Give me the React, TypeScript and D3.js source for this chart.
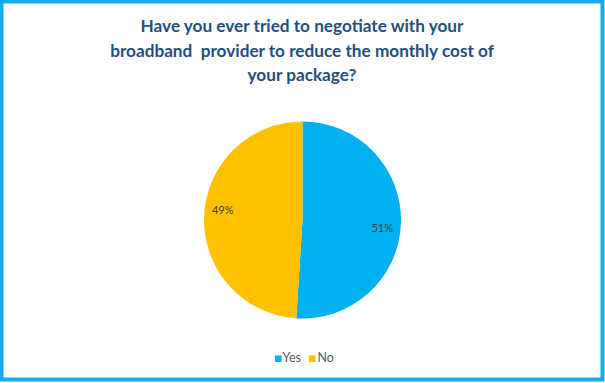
import React from "react";
import * as d3 from "d3";

const titleLines = [
  "Have you ever tried to negotiate with your",
  "broadband  provider to reduce the monthly cost of",
  "your package?",
];
const categories = ["Yes", "No"];
const values = [51, 49];
const colors = ["#00B0F0", "#FFC000"];

const W = 605;
const H = 383;

export default function App() {
  const cx = 302.5;
  const cy = 220;
  const r = 98.5;
  const pie = d3.pie<number>().sort(null).value((d) => d)(values);
  const arc = d3.arc<d3.PieArcDatum<number>>().innerRadius(0).outerRadius(r);
  const labelArc = d3.arc<d3.PieArcDatum<number>>().innerRadius(r * 0.79).outerRadius(r * 0.79);
  const labelDy = [7, -6];
  const labelDx = [2, -2];
  const total = d3.sum(values);

  const legendY = 362;
  const legendItems = [
    { x: 275, tx: 282.5 },
    { x: 309, tx: 317.5 },
  ];

  return (
    <svg
      width={W}
      height={H}
      style={{ position: "absolute", left: 0, top: 0, fontFamily: "Lato, 'Open Sans', sans-serif" }}
    >
      <rect x={0} y={0} width={W} height={H} fill="#ffffff" />
      <rect x={1.5} y={1.5} width={W - 4} height={H - 5} fill="none" stroke="#12ADEB" strokeWidth={4} />
      <g fill="#254E7D" fontWeight="bold" fontSize={17.2} textAnchor="middle">
        {titleLines.map((t, i) => (
          <text key={i} x={302} y={32 + i * 24.5} style={{ whiteSpace: "pre" }}>
            {t}
          </text>
        ))}
      </g>
      <g transform={`translate(${cx},${cy})`}>
        {pie.map((p, i) => (
          <path key={i} d={arc(p) || ""} fill={colors[i]} />
        ))}
        {pie.map((p, i) => {
          const [x, y] = labelArc.centroid(p);
          return (
            <text
              key={"l" + i}
              x={x + labelDx[i]}
              y={y + labelDy[i]}
              textAnchor="middle"
              dominantBaseline="middle"
              fontSize={11}
              fill="#404040"
            >
              {Math.round((values[i] / total) * 100)}%
            </text>
          );
        })}
      </g>
      <g fontSize={12.5} fill="#595959">
        {categories.map((c, i) => (
          <g key={c}>
            <rect x={legendItems[i].x} y={legendY - 6.5} width={6.5} height={6.5} fill={colors[i]} />
            <text x={legendItems[i].tx} y={legendY}>
              {c}
            </text>
          </g>
        ))}
      </g>
    </svg>
  );
}
